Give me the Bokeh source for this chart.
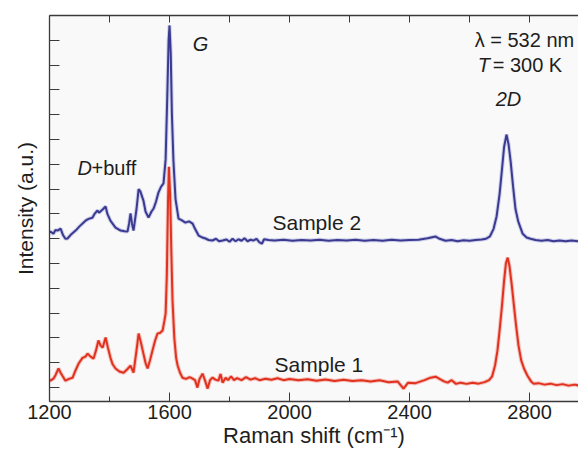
from bokeh.plotting import figure
from bokeh.models import Range1d, LinearAxis, FixedTicker, Label
from bokeh.embed import file_html
from bokeh.resources import INLINE

# Sample 2 (blue, upper trace)
s2_x = [1200, 1203, 1213, 1220, 1227, 1237, 1245, 1253, 1260, 1270, 1287, 1300, 1320, 1330, 1343,
        1350, 1360, 1365, 1377, 1387, 1393, 1403, 1420, 1437, 1450, 1460, 1465, 1470, 1475, 1480,
        1490, 1497, 1503, 1513, 1520, 1530, 1540, 1547, 1555, 1563, 1572, 1580, 1587, 1592, 1597,
        1600, 1604, 1608, 1613, 1620, 1630, 1640, 1653, 1665, 1677, 1685, 1697, 1710, 1720, 1730,
        1743, 1755, 1765, 1777, 1790, 1800, 1810, 1820, 1830, 1840, 1850, 1860, 1870, 1880, 1890,
        1900, 1908, 1915, 1930, 1950, 1980, 2010, 2040, 2070, 2100, 2130, 2160, 2190, 2220, 2250,
        2280, 2310, 2340, 2370, 2400, 2430, 2460, 2487, 2500, 2520, 2540, 2560, 2580, 2600, 2620,
        2640, 2655, 2668, 2680, 2690, 2700, 2708, 2715, 2723, 2730, 2737, 2745, 2753, 2762, 2777,
        2790, 2803, 2820, 2840, 2860, 2880, 2900, 2920, 2940, 2965]
s2_y = [6.25, 6.29, 6.20, 6.35, 6.33, 6.41, 6.15, 6.00, 6.01, 6.15, 6.33, 6.50, 6.73, 6.80, 6.85,
        7.00, 7.14, 7.05, 7.18, 7.30, 7.00, 6.73, 6.45, 6.33, 6.30, 6.29, 6.60, 7.02, 6.60, 6.33,
        7.20, 8.00, 7.90, 7.54, 7.10, 6.85, 7.10, 7.22, 7.50, 7.86, 8.10, 8.23, 9.20, 11.5, 14.0,
        14.6, 13.5, 11.0, 9.15, 7.60, 6.81, 6.75, 6.65, 6.70, 6.61, 6.40, 6.13, 6.05, 6.01, 5.95,
        5.93, 6.00, 5.90, 5.93, 5.97, 5.88, 6.00, 5.90, 5.98, 5.92, 6.02, 5.90, 5.96, 5.93, 6.00,
        5.85, 5.80, 5.98, 5.95, 5.93, 5.96, 5.92, 5.95, 5.93, 5.96, 5.92, 5.95, 5.93, 5.96, 5.92,
        5.95, 5.92, 5.96, 5.93, 5.95, 5.96, 6.02, 6.09, 6.00, 5.92, 5.95, 5.90, 5.94, 5.92, 5.95,
        5.97, 6.00, 6.10, 6.40, 6.90, 7.80, 8.80, 9.70, 10.2, 9.80, 9.10, 8.10, 7.20, 6.70, 6.20,
        6.05, 6.00, 5.95, 5.92, 5.95, 5.90, 5.93, 5.90, 5.93, 5.90]

# Sample 1 (red, lower trace)
s1_x = [1200, 1203, 1213, 1220, 1230, 1237, 1243, 1253, 1265, 1277, 1287, 1297, 1310, 1320, 1327,
        1337, 1347, 1355, 1363, 1370, 1377, 1387, 1395, 1403, 1410, 1420, 1433, 1447, 1460, 1470,
        1480, 1490, 1497, 1505, 1513, 1520, 1527, 1535, 1543, 1552, 1560, 1568, 1577, 1583, 1587,
        1591, 1595, 1598, 1602, 1606, 1610, 1616, 1622, 1627, 1635, 1643, 1655, 1667, 1677, 1685,
        1693, 1700, 1710, 1718, 1727, 1735, 1743, 1753, 1763, 1770, 1777, 1787, 1795, 1805, 1815,
        1825, 1840, 1855, 1870, 1885, 1900, 1920, 1940, 1960, 1980, 2000, 2030, 2060, 2090, 2120,
        2150, 2180, 2210, 2240, 2270, 2300, 2330, 2360, 2380, 2395, 2420, 2450, 2470, 2487, 2500,
        2515, 2527, 2540, 2555, 2570, 2590, 2610, 2630, 2650, 2665, 2675, 2685, 2693, 2700, 2708,
        2715, 2721, 2727, 2733, 2740, 2747, 2755, 2763, 2772, 2782, 2793, 2805, 2813, 2830, 2850,
        2870, 2890, 2910, 2930, 2950, 2965]
s1_y = [0.30, 0.28, 0.36, 0.50, 0.77, 0.60, 0.48, 0.28, 0.35, 0.40, 0.70, 0.97, 1.20, 1.25, 1.37,
        1.25, 1.17, 1.50, 1.90, 1.70, 1.61, 2.02, 1.60, 1.21, 0.95, 0.77, 0.65, 0.60, 0.75, 0.89,
        0.60, 1.50, 2.18, 1.80, 1.37, 1.00, 0.77, 1.10, 1.49, 1.90, 2.18, 2.20, 2.30, 2.70, 2.98,
        4.50, 7.50, 8.90, 7.80, 5.50, 3.50, 2.00, 1.20, 0.89, 0.60, 0.40, 0.35, 0.42, 0.36, 0.30,
        0.00, 0.35, 0.56, 0.30, -0.04, 0.30, 0.40, 0.32, 0.28, 0.55, 0.20, 0.40, 0.30, 0.45, 0.30,
        0.38, 0.30, 0.42, 0.32, 0.38, 0.30, 0.36, 0.32, 0.38, 0.30, 0.35, 0.30, 0.34, 0.28, 0.33,
        0.27, 0.32, 0.27, 0.30, 0.25, 0.30, 0.22, 0.25, -0.04, 0.20, 0.18, 0.30, 0.40, 0.44, 0.35,
        0.25, 0.20, 0.30, 0.15, 0.20, 0.15, 0.20, 0.16, 0.22, 0.30, 0.45, 0.90, 1.50, 2.30, 3.30,
        4.30, 5.00, 5.24, 4.90, 4.20, 3.40, 2.50, 1.70, 1.10, 0.75, 0.48, 0.25, 0.16, 0.18, 0.12,
        0.16, 0.10, 0.14, 0.08, 0.12, 0.08]

x_major_ticks = [1200, 1600, 2000, 2400, 2800]
x_minor_ticks = [1400, 1800, 2200, 2600]
y_ticks = list(range(15))

FONT = "Liberation Sans"
AXIS_COL = "#3a3a3a"
TXT_COL = "#1e1e1e"

p = figure(width=578, height=452, output_backend="svg", toolbar_location=None,
           x_range=Range1d(1200, 2963), y_range=Range1d(-0.56, 15.0),
           min_border_left=49, min_border_top=15, min_border_right=0, min_border_bottom=51,
           background_fill_color="#f9f9f9", border_fill_color="white",
           x_axis_location=None, y_axis_location=None)
p.outline_line_color = None
p.xgrid.visible = False
p.ygrid.visible = False

# bottom axis with labels
bottom = LinearAxis(axis_label="Raman shift (cm\u207b\u00b9)")
bottom.ticker = FixedTicker(ticks=x_major_ticks, minor_ticks=x_minor_ticks)
bottom.axis_line_color = AXIS_COL
bottom.axis_line_width = 1.3
bottom.major_tick_in = 9
bottom.major_tick_out = 0
bottom.minor_tick_in = 5
bottom.minor_tick_out = 0
bottom.major_tick_line_color = AXIS_COL
bottom.minor_tick_line_color = AXIS_COL
bottom.major_label_text_font = FONT
bottom.major_label_text_font_size = "20px"
bottom.major_label_text_color = TXT_COL
bottom.major_label_standoff = 3
bottom.axis_label_text_font = FONT
bottom.axis_label_text_font_size = "22px"
bottom.axis_label_text_font_style = "normal"
bottom.axis_label_text_color = TXT_COL
bottom.axis_label_standoff = 1
p.add_layout(bottom, "below")

# top axis: ticks only (as unlabeled minor ticks)
top = LinearAxis()
top.ticker = FixedTicker(ticks=[], minor_ticks=sorted(x_major_ticks + x_minor_ticks))
top.axis_line_color = AXIS_COL
top.axis_line_width = 1.3
top.major_tick_line_color = None
top.minor_tick_in = 7
top.minor_tick_out = 0
top.minor_tick_line_color = AXIS_COL
top.major_label_standoff = 0
p.add_layout(top, "above")

# left axis: inward ticks, no tick labels
left = LinearAxis(axis_label="Intensity (a.u.)")
left.ticker = FixedTicker(ticks=[], minor_ticks=y_ticks)
left.axis_line_color = AXIS_COL
left.axis_line_width = 1.3
left.major_tick_line_color = None
left.minor_tick_in = 10
left.minor_tick_out = 0
left.minor_tick_line_color = AXIS_COL
left.major_label_standoff = 0
left.axis_label_text_font = FONT
left.axis_label_text_font_size = "21px"
left.axis_label_text_font_style = "normal"
left.axis_label_text_color = TXT_COL
left.axis_label_standoff = 13
p.add_layout(left, "left")

# traces with soft halo
p.line(s2_x, s2_y, line_color="#9a9ad8", line_width=4, line_alpha=0.45)
p.line(s2_x, s2_y, line_color="#3a3b90", line_width=2)
p.line(s1_x, s1_y, line_color="#f08a80", line_width=4, line_alpha=0.5)
p.line(s1_x, s1_y, line_color="#e0321f", line_width=2)

def lab(x, y, t, italic=False, size="20px"):
    p.add_layout(Label(x=x, y=y, text=t, text_font=FONT, text_font_size=size,
                       text_font_style="italic" if italic else "normal",
                       text_color=TXT_COL, text_align="left", text_baseline="middle"))

lab(1677, 13.87, "G", italic=True)
lab(1293, 8.87, "D", italic=True)
lab(1340, 8.87, "+buff")
lab(2617, 14.03, "\u03bb = 532 nm")
lab(2627, 13.02, "T", italic=True)
lab(2677, 13.02, "= 300 K")
lab(2687, 11.65, "2D", italic=True)
lab(1943, 6.65, "Sample 2", size="21px")
lab(1950, 0.93, "Sample 1", size="21px")

open("out.html", "w").write(file_html(p, INLINE))
